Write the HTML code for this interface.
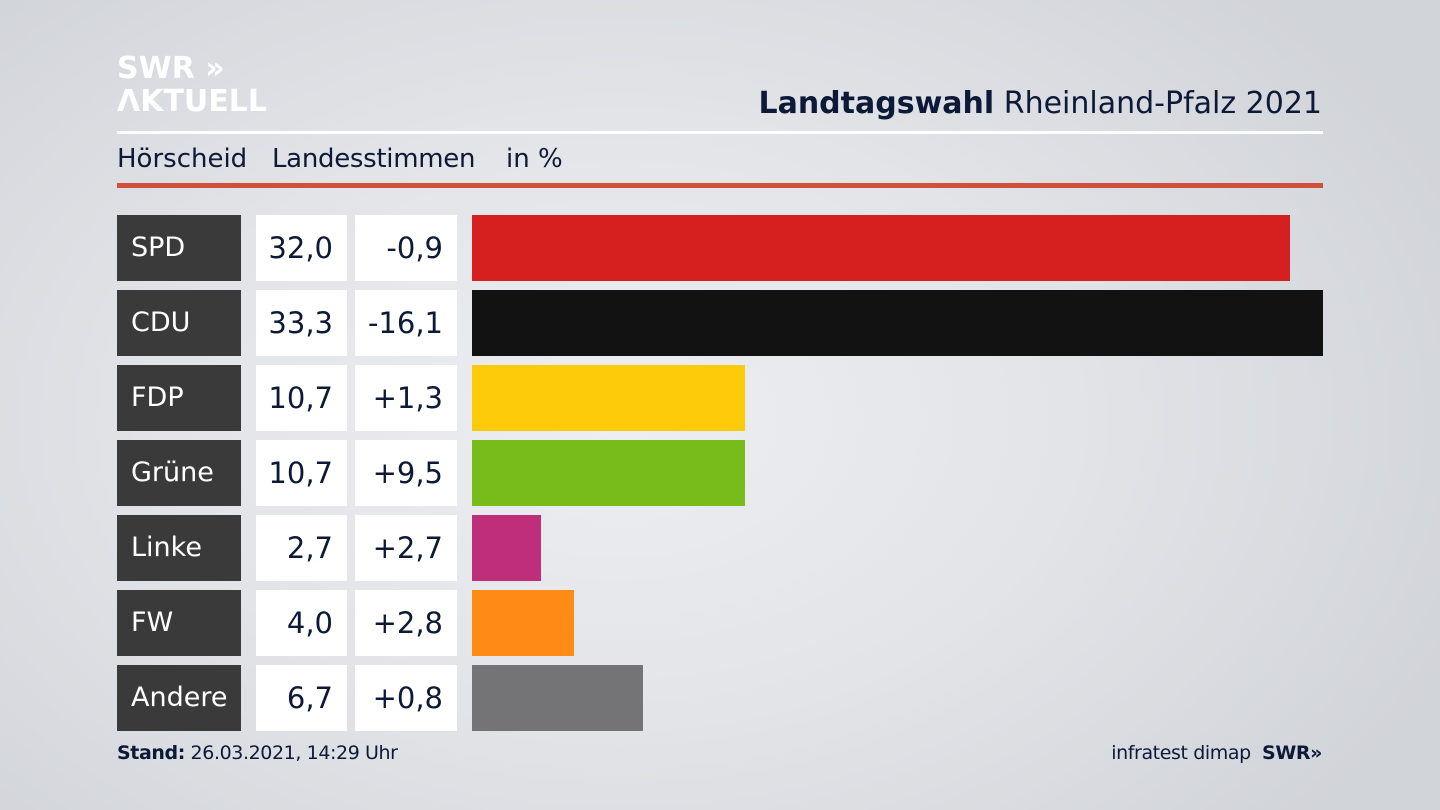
<!DOCTYPE html>
<html><head><meta charset="utf-8">
<style>
html,body{margin:0;padding:0}
body{width:1440px;height:810px;overflow:hidden;position:relative;font-family:"DejaVu Sans","Liberation Sans",sans-serif;
background:radial-gradient(ellipse 900px 600px at 620px 420px,#eceef1 0%,#e2e4e8 50%,#d1d4d9 100%);color:#0c1a38}
.abs{position:absolute}
.lbl{background:#3a3a3a;color:#fff;font-size:27px;line-height:66px;padding-left:14px;box-sizing:border-box}
.val{background:#fff;color:#0c1a38;font-size:29px;line-height:66px;text-align:right;box-sizing:border-box;padding-right:14px}
</style></head><body>
<div class="abs" style="left:117px;top:52px;color:#fff;font-weight:bold;font-size:30px;line-height:33px">SWR »<br>ΛKTUELL</div>
<div class="abs" style="right:118px;top:86px;font-size:30px;color:#0c1a38"><b>Landtagswahl</b> Rheinland-Pfalz 2021</div>
<div class="abs" style="left:117px;top:131px;width:1206px;height:3px;background:#fff"></div>
<div class="abs" style="left:117px;top:144px;font-size:26px">Hörscheid</div>
<div class="abs" style="left:272px;top:144px;font-size:26px;letter-spacing:-0.3px">Landesstimmen</div>
<div class="abs" style="left:506px;top:144px;font-size:26px">in %</div>
<div class="abs" style="left:117px;top:183px;width:1206px;height:5px;background:#d0503c"></div>
<div id="rows"></div>
<div class="abs" style="left:117px;top:742px;font-size:19px;letter-spacing:-0.4px"><b>Stand:</b> 26.03.2021, 14:29 Uhr</div>
<div class="abs" style="right:118px;top:742px;font-size:19px;letter-spacing:-0.4px">infratest dimap&nbsp;&nbsp;<b>SWR»</b></div>
<script>
const parties=["SPD","CDU","FDP","Grüne","Linke","FW","Andere"];
const values=[32.0,33.3,10.7,10.7,2.7,4.0,6.7];
const diffs=["-0,9","-16,1","+1,3","+9,5","+2,7","+2,8","+0,8"];
const colors=["#d61f1f","#121212","#fecb0a","#78bc1b","#bf2e78","#fd8b16","#747476"];
const root=document.getElementById('rows');
const x0=472, scale=851/33.3;
function xs(v){return v*scale;}
parties.forEach((p,i)=>{
  const top=215+i*75;
  const mk=(cls,l,w,txt)=>{const d=document.createElement('div');d.className='abs '+cls;d.style.left=l+'px';d.style.top=top+'px';d.style.width=w+'px';d.style.height='66px';d.textContent=txt;root.appendChild(d);return d;};
  const a=mk('lbl',117,124,p);
  
  
  const b=mk('val',256,91,values[i].toFixed(1).replace('.',','));
  
  
  const c=mk('val',355,102,diffs[i]);
  
  
  const bar=mk('',x0,xs(values[i]),'');
  bar.style.background=colors[i];
  
  
});
</script>
</body></html>
